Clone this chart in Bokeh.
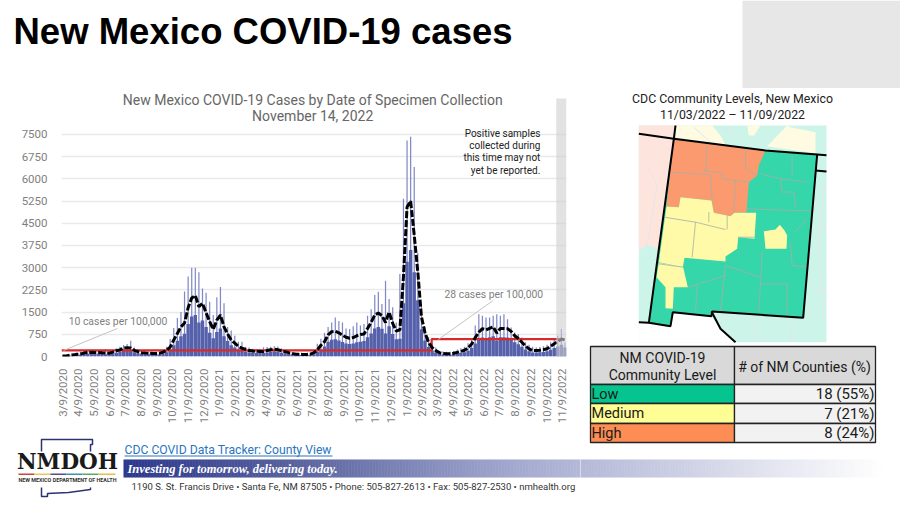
import numpy as np
import pandas as pd
from bokeh.core.properties import value
from bokeh.embed import file_html
from bokeh.layouts import column, row
from bokeh.models import BoxAnnotation, FixedTicker, Range1d
from bokeh.plotting import figure
from bokeh.resources import INLINE

# ---------- chart data ----------
tick_labels = ["3/9/2020","4/9/2020","5/9/2020","6/9/2020","7/9/2020","8/9/2020","9/9/2020","10/9/2020",
               "11/9/2020","12/9/2020","1/9/2021","2/9/2021","3/9/2021","4/9/2021","5/9/2021","6/9/2021",
               "7/9/2021","8/9/2021","9/9/2021","10/9/2021","11/9/2021","12/9/2021","1/9/2022","2/9/2022",
               "3/9/2022","4/9/2022","5/9/2022","6/9/2022","7/9/2022","8/9/2022","9/9/2022","10/9/2022","11/9/2022"]
y_ticks = [0,750,1500,2250,3000,3750,4500,5250,6000,6750,7500]
first_date = "2020-03-09"

weekly_peak = [30,40,70,100,130,160,190,220,210,210,200,190,250,170,
               220,280,330,390,420,530,300,250,200,170,170,160,150,170,230,330,
               590,960,1300,1500,2200,2700,3000,3000,2850,2300,2150,1850,1400,2000,2350,1800,1000,880,700,500,
               500,330,300,260,250,260,310,320,330,350,340,280,230,180,150,130,110,110,110,130,200,430,600,
               800,1000,1150,1320,1200,1150,950,930,1020,1150,1050,1100,1380,1600,2080,2190,1770,2560,1940,1660,1150,2790,
               5330,7300,7420,6400,3500,1770,1000,650,
               450,300,180,170,160,160,190,240,280,330,450,620,1050,1430,1380,1320,1320,1380,1430,1380,1430,1260,980,
               810,760,640,480,400,330,300,320,350,400,480,560,700,930,470]
weekly_body = [10,15,25,35,50,60,80,90,95,90,90,85,80,75,
               100,130,150,190,200,190,140,110,90,80,75,70,70,70,100,140,
               220,380,530,680,770,1100,1350,1400,1150,1220,1000,800,620,830,950,680,520,380,300,230,
               190,160,135,125,120,115,115,135,155,170,155,130,110,90,70,55,50,48,48,55,80,150,200,
               340,500,570,580,540,490,440,420,440,480,500,520,650,780,950,1000,940,780,1020,760,580,600,
               1800,3200,3600,2850,1900,920,540,320,
               200,135,90,70,60,60,75,95,115,140,195,285,435,560,640,610,650,680,540,650,650,640,580,480,415,
               330,240,175,135,135,140,155,175,230,290,340,400,300]
seven_day_avg = [15,20,40,55,75,85,115,135,140,135,135,125,120,110,
                 150,195,225,280,300,290,210,165,130,115,110,105,100,105,150,210,
                 320,560,780,1000,1130,1650,1980,2060,1680,1800,1480,1180,920,1230,1400,1000,760,560,450,340,
                 280,240,200,185,175,170,170,200,230,250,230,190,165,130,100,80,75,70,70,80,120,220,380,
                 500,730,840,850,800,720,650,615,640,700,740,760,950,1150,1400,1470,1380,1150,1500,1120,860,900,
                 2700,5050,5250,4100,2850,1350,800,475,
                 300,200,130,100,90,90,110,140,170,210,290,420,640,820,940,900,950,1000,790,950,950,940,850,700,610,
                 480,350,260,200,200,210,230,260,340,430,500,590,560]

threshold_days = [-2, 720, 720, 971]
threshold_cases = [210, 210, 590, 590]
note_days = [2, 107, 733, 840]
note_cases = [203, 946, 574, 1892]

# ---------- map shapes, in map units ----------
map_frame_x = [85, 648, 648, 85]
map_frame_y = [120, 120, 770, 770]
arizona_x = [85,195,190,165,145,110,85]
arizona_y = [120,120,160,360,490,478,495]
colorado_parts_x = [[195,305,330,345,195],[410,450,430,415],[470,530,540,615,615]]
colorado_parts_y = [[120,120,150,178,155],[120,120,150,150],[182,120,125,140,203]]
mexico_x = [85,115,180,187,303,330,375,85]
mexico_y = [710,712,722,680,692,730,770,770]
state_x = [190,465,620,578,305,303,187,180,115]
state_y = [160,195,207,697,678,692,680,722,712]
high_x = [190,465,445,440,415,408,372,360,310,303,210,205,168]
high_y = [160,195,240,270,290,380,382,392,382,345,335,365,363]
medium_parts_x = [[168,205,210,303,310,360,372,437,432,383,380,345,345,222,217,145],
                  [145,218,232,190,187,165,165,138],
                  [460,495,508,522,530,528,465]]
medium_parts_y = [[363,365,335,345,382,392,382,382,460,455,490,513,528,517,545,530],
                  [532,545,605,605,670,668,605,575],
                  [437,432,418,435,450,490,490]]
county_x = [[290,285],[405,405,440],[185,300],[280,335,335,375,370],[300,305],[375,415],
            [160,255,345],[255,245],[295,295],[350,350],[145,218],
            [450,510,590],[510,515,550,555],[408,555,600],[545,545],[550,590],[345,450],
            [455,450,445],[540,545,590],[450,530,530],[345,330],[232,345],[260,255],[383,432]]
county_y = [[180,255],[190,250,270],[260,268],[255,262,280,285,380],[268,345],[285,290],
            [395,410,432],[410,515],[380,410],[390,432],[535,545],
            [265,280,290],[280,320,320,370],[370,375,375],[210,270],[440,400],[540,575],
            [500,590,680],[470,540,545],[595,595,690],[540,680],[605,570],[600,680],[455,455]]
faint_x = [[110,140,120,110],[250,300],[330,380],[640,625,640],[430,440],[545,540],[620,645],[620,640]]
faint_y = [[240,300,420,478],[125,170],[125,150],[300,480,700],[695,770],[700,770],[430,430],[610,610]]
border_x = [[85,190],[195,190],[620,648],[615,648],[85,115],[303,330,375]]
border_y = [[145,160],[120,160],[207,209],[255,258],[710,712],[678,730,770]]

# ---------- table ----------
table_head = ["NM COVID-19", "Community Level", "# of NM Counties (%)"]
table_levels = ["Low", "Medium", "High"]
table_counts = ["18 (55%)", "7 (21%)", "8 (24%)"]
level_colors = ["#05c48f", "#fffe94", "#fd8d54"]

INK = "#7f7f7f"
FONT = "Roboto"


def blank(w, h, xr, yr):
    p = figure(width=w, height=h, x_range=Range1d(*xr), y_range=Range1d(*yr),
               x_axis_type=None, y_axis_type=None, output_backend="svg", toolbar_location=None,
               min_border=0, outline_line_color=None, background_fill_color="white",
               border_fill_color="white", frame_align=False)
    p.grid.visible = False
    return p


def put(p, x, y, text, size, color="#222222", align="left", font=FONT, style="normal"):
    p.text(x=[x], y=[y], text=[text], text_font=value(font), text_font_size=f"{size}px",
           text_color=color, text_align=align, text_baseline="middle", text_font_style=style)


# ---------- header ----------
top = blank(900, 88, (0, 900), (88, 0))
top.quad(left=[742], right=[900], top=[0], bottom=[88], fill_color="#e7e7e7", line_color=None)
put(top, 13, 31, "New Mexico COVID-19 cases", 36.5, "#000000", font="Liberation Sans", style="bold")

# ---------- chart ----------
start = pd.Timestamp(first_date)
tick_days = [int((pd.to_datetime(t, format="%m/%d/%Y") - start).days) for t in tick_labels]

chart = figure(width=580, height=348, x_range=Range1d(-2, 983), y_range=Range1d(0, 9054),
               output_backend="svg", toolbar_location=None, outline_line_color=None,
               min_border_left=61, min_border_right=14, min_border_top=0, min_border_bottom=80,
               background_fill_color="white", border_fill_color="white", frame_align=False)
chart.xgrid.visible = False
chart.ygrid.grid_line_color = "#e9e9e9"
chart.ygrid.grid_line_width = 1.3
chart.yaxis.ticker = FixedTicker(ticks=y_ticks)
chart.xaxis.ticker = FixedTicker(ticks=tick_days)
chart.xaxis.major_label_overrides = dict(zip(tick_days, tick_labels))
chart.xaxis.major_label_orientation = np.pi / 2
for ax in (chart.xaxis[0], chart.yaxis[0]):
    ax.axis_line_color = None
    ax.major_tick_line_color = None
    ax.minor_tick_line_color = None
    ax.major_label_text_color = INK
    ax.major_label_text_font = FONT
    ax.major_label_text_font_size = "11.5px"
chart.xaxis.major_label_standoff = 6
chart.yaxis.major_label_standoff = 8

chart.vbar(x=[7 * i for i in range(len(weekly_peak))], top=weekly_peak, bottom=0, width=2.4,
           fill_color="#8089c6", line_color=None)
chart.vbar(x=[7 * i for i in range(len(weekly_body))], top=weekly_body, bottom=0, width=6.7,
           fill_color="#5661ab", line_color=None)
chart.line(threshold_days, threshold_cases, line_color="#d82a2c", line_width=2.2)
chart.line(note_days[:2], note_cases[:2], line_color="#c4c4c4", line_width=1)
chart.line(note_days[2:], note_cases[2:], line_color="#c4c4c4", line_width=1)
chart.line([7 * i for i in range(len(seven_day_avg))], seven_day_avg, line_color="#000000",
           line_width=3, line_dash="7 2")
chart.add_layout(BoxAnnotation(left=963, right=983, top=8716, bottom=-440, fill_color="#cfcfcf",
                               fill_alpha=0.6, line_color=None, level="overlay"))
put(chart, 488, 8650, "New Mexico COVID-19 Cases by Date of Specimen Collection", 14, "#666666", "center")
put(chart, 488, 8110, "November 14, 2022", 14, "#666666", "center")
put(chart, 12, 1180, "10 cases per 100,000", 10.4, INK)
put(chart, 745, 2110, "28 cases per 100,000", 10.4, INK)
for line_text, yv in zip(["Positive samples", "collected during", "this time may not", "yet be reported."],
                         [7530, 7120, 6710, 6280]):
    put(chart, 932, yv, line_text, 10, "#222222", "right")

# ---------- map ----------
mp = blank(320, 256, (-90, 870), (777, 9))
mp.patch(map_frame_x, map_frame_y, fill_color="#cdf4e9", line_color=None)
mp.patch(arizona_x, arizona_y, fill_color="#fde5de", line_color=None)
mp.patches(colorado_parts_x, colorado_parts_y, fill_color="#fefbe2", line_color=None)
mp.patch(mexico_x, mexico_y, fill_color="#ffffff", line_color=None)
mp.multi_line(faint_x, faint_y, line_color="#e6e6e6", line_width=1)
mp.patch(state_x, state_y, fill_color="#35d6a9", line_color=None)
mp.patch(high_x, high_y, fill_color="#fb9a6e", line_color=None)
mp.patches(medium_parts_x, medium_parts_y, fill_color="#fefaa8", line_color=None)
mp.multi_line(county_x, county_y, line_color="#a8ada8", line_width=0.8)
mp.patch(state_x + state_x[:1], state_y + state_y[:1], fill_color=None, line_color="#000000", line_width=2)
mp.multi_line(border_x, border_y, line_color="#000000", line_width=2)
put(mp, 366, 40, "CDC Community Levels, New Mexico", 12.3, "#222222", "center")
put(mp, 366, 87, "11/03/2022 \u2013 11/09/2022", 12.3, "#222222", "center")

# ---------- table ----------
tb = blank(320, 104, (580, 900), (448, 344))
col_edges = [590, 734, 875]
row_edges = [346, 384, 403, 423, 442]
tb.quad(left=[col_edges[0], col_edges[1]], right=[col_edges[1], col_edges[2]],
        top=[row_edges[0]] * 2, bottom=[row_edges[1]] * 2, fill_color="#d9d9d9", line_color="#222222", line_width=1.3)
tb.quad(left=[col_edges[0]] * 3, right=[col_edges[1]] * 3, top=row_edges[1:4], bottom=row_edges[2:5],
        fill_color=level_colors, line_color="#222222", line_width=1.3)
tb.quad(left=[col_edges[1]] * 3, right=[col_edges[2]] * 3, top=row_edges[1:4], bottom=row_edges[2:5],
        fill_color="#f2f2f2", line_color="#222222", line_width=1.3)
put(tb, 662, 357, table_head[0], 14, "#1a1a1a", "center")
put(tb, 662, 374, table_head[1], 14, "#1a1a1a", "center")
put(tb, 804, 366, table_head[2], 14, "#1a1a1a", "center")
for i in range(3):
    yc = (row_edges[i + 1] + row_edges[i + 2]) / 2
    put(tb, 591, yc, table_levels[i], 14.5, "#1a1a1a")
    put(tb, 874, yc, table_counts[i], 15, "#1a1a1a", "right")

# ---------- footer ----------
foot_l = blank(580, 70, (0, 580), (506, 436))
foot_r = blank(320, 58, (580, 900), (506, 448))
stops_x = [123, 300, 520, 880]
stops_r = [44, 90, 165, 255]
stops_g = [56, 100, 171, 255]
stops_b = [140, 159, 208, 255]
edges = np.arange(123, 884, 3)
for pane, lo, hi in ((foot_l, 123, 580), (foot_r, 576, 884)):
    e = edges[(edges >= lo) & (edges < hi)]
    cols = ["#%02x%02x%02x" % (int(np.interp(v, stops_x, stops_r)), int(np.interp(v, stops_x, stops_g)),
                               int(np.interp(v, stops_x, stops_b))) for v in e]
    pane.quad(left=list(e), right=list(e + 3.4), top=[459] * len(e), bottom=[477] * len(e),
              fill_color=cols, line_color=None)
put(foot_l, 124, 449, "CDC COVID Data Tracker: County View", 12.2, "#2a75c0")
foot_l.line([124, 332], [455.5, 455.5], line_color="#2a75c0", line_width=1)
put(foot_l, 127, 468, "Investing for tomorrow, delivering today.", 12.5, "#ffffff", font="Liberation Serif", style="bold italic")
put(foot_l, 131, 486, "1190 S. St. Francis Drive \u2022 Santa Fe, NM 87505 \u2022 Phone: 505-827-2613 \u2022 Fax: 505-827-2530 \u2022 nmhealth.org",
    9.5, "#333333")
put(foot_l, 67, 461, "NMDOH", 21.5, "#1a1a1a", "center", font="DejaVu Serif", style="bold")
put(foot_l, 67, 479, "NEW MEXICO DEPARTMENT OF HEALTH", 5.4, "#333333", "center", style="bold")
foot_l.line([41, 41, 92, 92, 90, 90], [451, 439, 439, 444, 444, 451], line_color="#2c3470", line_width=1.5)
foot_l.line([41, 41, 47, 47, 68, 90, 90], [487, 496, 496, 493, 492, 489, 487], line_color="#2c3470", line_width=1.5)
logo_colors = ["#c8463c", "#e8c860", "#5a4a90", "#3f8fb0", "#5aa86a", "#e0c050"]
logo_edges = [18, 34, 50, 66, 82, 98, 115]
foot_l.quad(left=logo_edges[:-1], right=logo_edges[1:], top=[473] * 6, bottom=[474.5] * 6,
            fill_color=logo_colors, line_color=None)

layout = column(top, row(column(chart, foot_l), column(mp, tb, foot_r)))
open("out.html", "w").write(file_html(layout, INLINE))
